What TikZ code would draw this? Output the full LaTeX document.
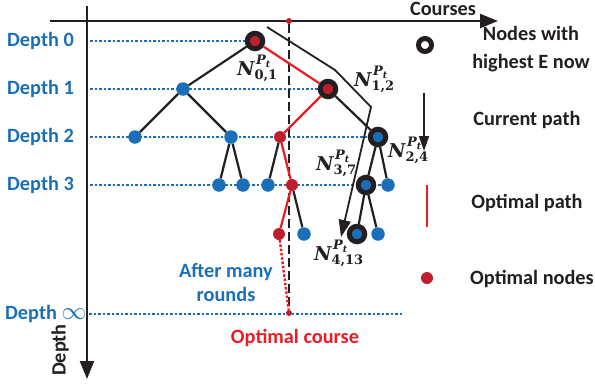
\documentclass[tikz,border=0pt]{standalone}
\usepackage{fontspec}
\setmainfont{Carlito}
\newfontfamily\labfont{DejaVu Serif}
\usetikzlibrary{arrows.meta}
\definecolor{dblue}{HTML}{1A6FB8}
\definecolor{dred}{HTML}{BE1E2D}
\definecolor{lred}{HTML}{ED1C24}
\definecolor{ink}{HTML}{231F20}
\newcommand\Nlab[1]{{\fontsize{19}{20}\labfont\bfseries\itshape N}%
  \makebox[0pt][l]{\hspace{1.5pt}\raisebox{11pt}{\labfont\bfseries\itshape\fontsize{13}{13}\selectfont P\raisebox{-3pt}{\fontsize{9.5}{9.5}\selectfont t}}}%
  \raisebox{-4pt}{\labfont\bfseries\fontsize{13}{13}\selectfont #1}}
\begin{document}
\begin{tikzpicture}[x=1pt,y=-1pt,
  txt/.style={font=\fontsize{20.3}{23}\selectfont\bfseries, text=ink, inner sep=0pt},
  btxt/.style={txt, text=dblue},
  rtxt/.style={txt, text=lred},
  mlab/.style={text=ink, inner sep=0pt, anchor=base west},
  bdot/.style={circle, fill=dblue, inner sep=0pt, minimum size=13.5pt},
  rdot/.style={circle, fill=dred, inner sep=0pt, minimum size=12pt},
  sdot/.style={circle, fill=dred, inner sep=0pt, minimum size=6pt},
  ringr/.style={circle, draw=ink, line width=5pt, fill=dred, inner sep=0pt, minimum size=15.5pt},
  ringb/.style={ringr, fill=dblue},
  ringw/.style={circle, draw=ink, line width=5pt, fill=white, inner sep=0pt, minimum size=13pt},
  edge/.style={line width=2.2pt, ink},
  redge/.style={line width=2.2pt, lred},
  dotline/.style={dblue, line width=1.3pt, dash pattern=on 2.5pt off 2pt},
  axis/.style={line width=2.4pt, ink, -{Triangle[length=18pt,width=14pt]}}
]
\useasboundingbox (0,0) rectangle (595,386);

% axis coordinates
\coordinate (hx0) at (50,21);
\coordinate (hx1) at (498,21);
\coordinate (vy0) at (87,6);
\coordinate (vy1) at (87,379);

% depth labels
\node[btxt, anchor=west] (d0) at (7,41) {Depth 0};
\node[btxt, anchor=west] (d1) at (7,89) {Depth 1};
\node[btxt, anchor=west] (d2) at (7,137) {Depth 2};
\node[btxt, anchor=west] (d3) at (7,185) {Depth 3};
\node[btxt, anchor=west] (dinf) at (5,314) {Depth {\fontsize{27}{27}\selectfont$\infty$}};

% dotted level lines
\coordinate (l0a) at (90,41);  \coordinate (l0b) at (246,41);
\coordinate (l1a) at (90,89);  \coordinate (l1b) at (319,89);
\coordinate (l2a) at (90,137); \coordinate (l2b) at (368,137);
\coordinate (l3a) at (90,185); \coordinate (l3b) at (388,185);
\coordinate (l4a) at (89,314); \coordinate (l4b) at (402,314);
\draw[dotline] (l0a) -- (l0b);
\draw[dotline] (l1a) -- (l1b);
\draw[dotline] (l2a) -- (l2b);
\draw[dotline] (l3a) -- (l3b);
\draw[dotline] (l4a) -- (l4b);

% axes
\draw[axis] (hx0) -- (hx1);
\draw[axis] (vy0) -- (vy1);
\node[txt] (courses) at (443,9) {Courses};
\node[txt, rotate=90] (depthlab) at (60,350) {Depth};

% dashed optimal course line
\node[sdot] (top) at (289,21) {};
\node[sdot] (opt) at (289,313) {};
\draw[ink, line width=1.4pt, dash pattern=on 9pt off 4pt] (top) -- (opt);

% nodes
\node[ringr] (n01) at (255,41) {};
\node[bdot] (a1) at (183,89) {};
\node[ringr] (n12) at (328,89) {};
\node[bdot] (a2) at (135,137) {};
\node[bdot] (b2) at (231,137) {};
\node[rdot] (r2) at (280,137) {};
\node[ringb] (n24) at (378,137) {};
\node[bdot] (a3) at (219,185) {};
\node[bdot] (b3) at (243,185) {};
\node[bdot] (c3) at (268,185) {};
\node[rdot] (r3) at (292,185) {};
\node[ringb] (n37) at (366,185) {};
\node[bdot] (d3b) at (388,185) {};
\node[rdot] (r4) at (279,234) {};
\node[bdot] (a4) at (304,234) {};
\node[ringb] (n413) at (357,234) {};
\node[bdot] (b4) at (378,234) {};

% edges
\draw[edge] (n01) -- (a1);
\draw[redge] (n01) -- (n12);
\draw[edge] (a1) -- (a2);
\draw[edge] (a1) -- (b2);
\draw[edge] (b2) -- (a3);
\draw[edge] (b2) -- (b3);
\draw[redge] (n12) -- (r2);
\draw[edge] (n12) -- (n24);
\draw[edge] (r2) -- (c3);
\draw[redge] (r2) -- (r3);
\draw[redge] (r3) -- (r4);
\draw[edge] (r3) -- (a4);
\draw[edge] (n24) -- (n37);
\draw[edge] (n24) -- (d3b);
\draw[edge] (n37) -- (n413);
\draw[edge] (n37) -- (b4);
\draw[lred, line width=2.4pt, dash pattern=on 2.5pt off 1.8pt] (r4) -- (opt);

% current path arrow
\coordinate (cp0) at (267,27);
\coordinate (cp1) at (335,70);
\coordinate (cp2) at (371,107);
\coordinate (cp3) at (341,237);
\draw[ink, line width=1.8pt, -{Triangle[length=17pt,width=12pt]}] (cp0) -- (cp1) -- (cp2) -- (cp3);

% N labels
\node[mlab] (lab01) at (237,75) {\Nlab{0,1}};
\node[mlab] (lab12) at (354,86) {\Nlab{1,2}};
\node[mlab] (lab24) at (388,157) {\Nlab{2,4}};
\node[mlab] (lab37) at (316,170) {\Nlab{3,7}};
\node[mlab] (lab413) at (314,260) {\Nlab{4,13}};

% after many rounds / optimal course
\node[btxt, align=center] (after) at (226,283) {After many\\[1pt]rounds};
\node[rtxt] (optc) at (295,338) {Optimal course};

% legend
\node[ringw] (legring) at (425,45) {};
\node[txt, align=center] (legring-t) at (531,49) {Nodes with\\[5pt]highest E now};
\coordinate (la0) at (424,93);
\coordinate (la1) at (424,151);
\draw[ink, line width=1.6pt, -{Triangle[length=15pt,width=10pt]}] (la0) -- (la1);
\node[txt] (legarrow-t) at (527,120) {Current path};
\coordinate (lr0) at (427,185);
\coordinate (lr1) at (427,227);
\draw[lred, line width=2.4pt] (lr0) -- (lr1);
\node[txt] (legred-t) at (527,203) {Optimal path};
\node[rdot] (legdot) at (427,278) {};
\node[txt] (legdot-t) at (532,279) {Optimal nodes};
\end{tikzpicture}
\end{document}
